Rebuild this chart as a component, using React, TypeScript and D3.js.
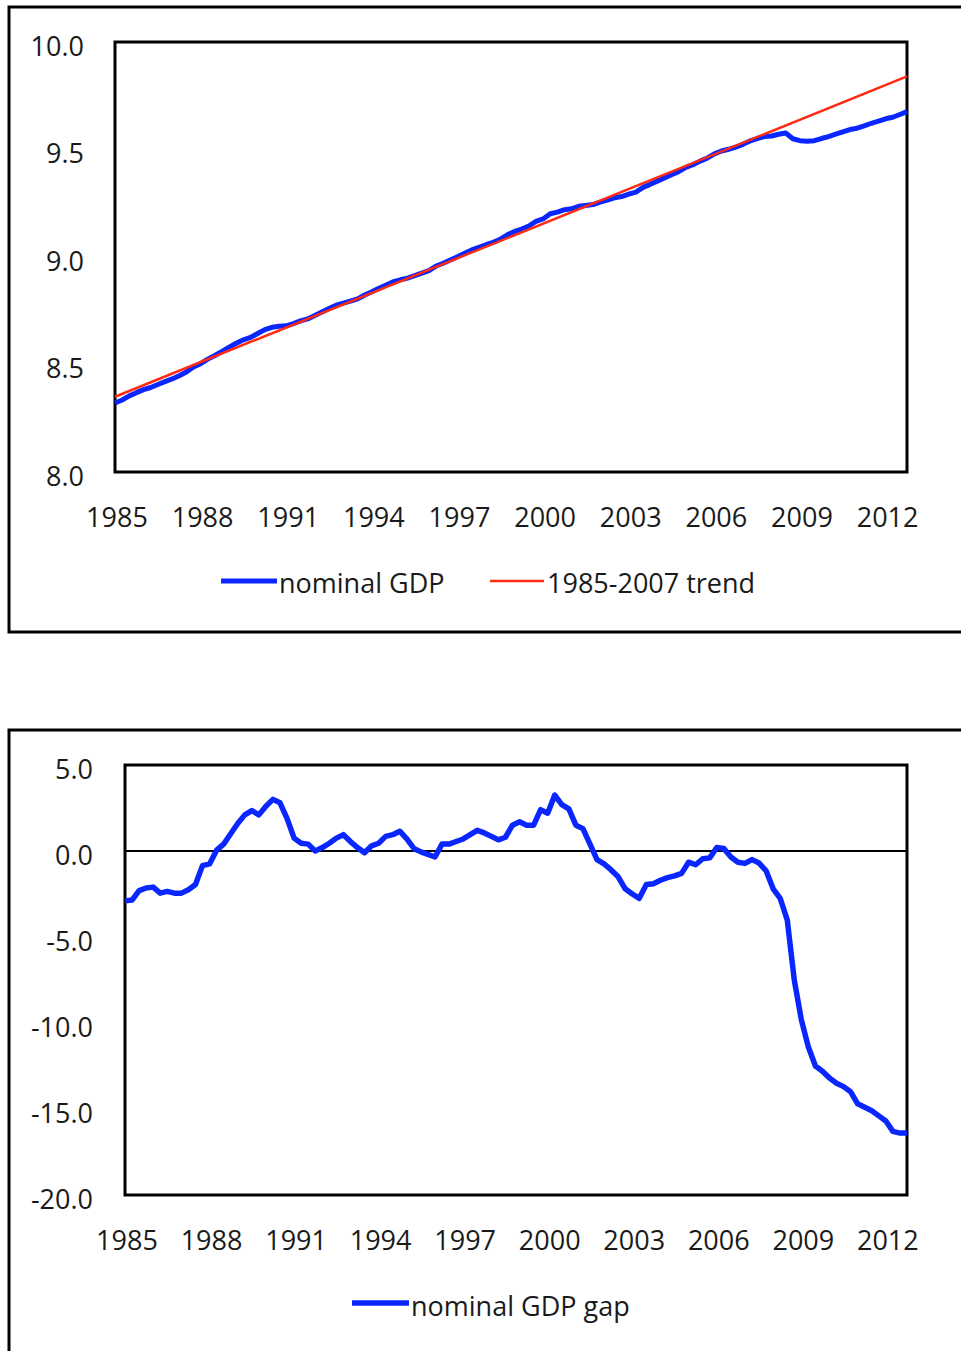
import React from "react";
import * as d3 from "d3";

// Quarterly observations, 1985Q1 .. 2012Q4 (112 quarters)
const startYear = 1985;
const quarterCount = 112;
const yearTicks = [1985, 1988, 1991, 1994, 1997, 2000, 2003, 2006, 2009, 2012];

// log nominal GDP
const nominalGDP = [
  8.321, 8.335, 8.354, 8.369, 8.383, 8.393, 8.407, 8.420, 8.433, 8.448,
  8.465, 8.489, 8.504, 8.525, 8.542, 8.561, 8.581, 8.599, 8.615, 8.626,
  8.644, 8.662, 8.673, 8.678, 8.680, 8.690, 8.703, 8.712, 8.728, 8.744,
  8.760, 8.776, 8.785, 8.795, 8.805, 8.823, 8.838, 8.855, 8.870, 8.885,
  8.894, 8.902, 8.913, 8.925, 8.937, 8.958, 8.971, 8.986, 9.001, 9.017,
  9.033, 9.045, 9.057, 9.068, 9.083, 9.103, 9.119, 9.130, 9.144, 9.166,
  9.177, 9.201, 9.209, 9.220, 9.224, 9.236, 9.240, 9.244, 9.255, 9.265,
  9.275, 9.281, 9.292, 9.302, 9.324, 9.338, 9.353, 9.368, 9.383, 9.397,
  9.417, 9.429, 9.446, 9.460, 9.480, 9.493, 9.501, 9.511, 9.524, 9.540,
  9.551, 9.560, 9.563, 9.571, 9.577, 9.550, 9.541, 9.538, 9.541, 9.551,
  9.560, 9.571, 9.582, 9.593, 9.599, 9.610, 9.622, 9.632, 9.643, 9.650,
  9.663, 9.676,
];

// 1985-2007 trend: straight line, start and end points
const trendIndex = [0, 111];
const trendValues = [8.35, 9.84];

// nominal GDP gap, percent (lower panel)
const gdpGap = [
  -2.9, -2.85, -2.3, -2.15, -2.1, -2.45, -2.35, -2.45, -2.45, -2.25,
  -1.95, -0.85, -0.75, 0.05, 0.4, 1.0, 1.6, 2.1, 2.35, 2.1,
  2.6, 3.0, 2.8, 1.9, 0.75, 0.45, 0.4, 0.0, 0.2, 0.45,
  0.75, 0.95, 0.55, 0.2, -0.1, 0.3, 0.45, 0.85, 0.95, 1.15,
  0.7, 0.15, -0.05, -0.2, -0.35, 0.4, 0.4, 0.55, 0.7, 0.95,
  1.2, 1.05, 0.85, 0.65, 0.8, 1.5, 1.7, 1.5, 1.5, 2.4,
  2.2, 3.25, 2.7, 2.45, 1.5, 1.3, 0.4, -0.5, -0.75, -1.1,
  -1.5, -2.2, -2.5, -2.75, -1.95, -1.9, -1.7, -1.55, -1.45, -1.3,
  -0.65, -0.8, -0.45, -0.4, 0.2, 0.15, -0.35, -0.65, -0.72, -0.5,
  -0.7, -1.15, -2.2, -2.75, -4.0, -7.5, -9.8, -11.4, -12.5, -12.8,
  -13.2, -13.5, -13.7, -14.0, -14.7, -14.9, -15.1, -15.4, -15.7, -16.3,
  -16.4, -16.4,
];

const topTicks = [8.0, 8.5, 9.0, 9.5, 10.0];
const bottomTicks = [-20, -15, -10, -5, 0, 5];

const FONT = "'Open Sans', 'DejaVu Sans', sans-serif";
const FS = 27;
const TEXT = "#1a1a1a";
const BLUE = "#0a26ff";
const RED = "#ff2a12";

export default function App() {
  // upper panel
  const xTop = d3.scaleLinear().domain([0, quarterCount - 1]).range([115, 907]);
  const yTop = d3.scaleLinear().domain([8, 10]).range([472, 42]);
  const gdpLine = d3
    .line<number>()
    .x((_, i) => xTop(i))
    .y((d) => yTop(d));
  const trendLine = d3
    .line<number>()
    .x((_, i) => xTop(trendIndex[i]))
    .y((d) => yTop(d));

  // lower panel
  const xBot = d3.scaleLinear().domain([0, quarterCount - 1]).range([125, 907]);
  const yBot = d3.scaleLinear().domain([-20, 5]).range([1195, 765]);
  const gapLine = d3
    .line<number>()
    .x((_, i) => xBot(i))
    .y((d) => yBot(d));

  const qIndex = (yr: number) => (yr - startYear) * 4;

  return (
    <svg
      width={961}
      height={1351}
      style={{ position: "absolute", left: 0, top: 0, display: "block", background: "#fff" }}
      fontFamily={FONT}
    >
      <rect x={0} y={0} width={961} height={1351} fill="#fff" />

      {/* ===== upper panel ===== */}
      <rect x={9} y={7} width={970} height={625} fill="none" stroke="#000" strokeWidth={3} />
      <rect x={115} y={42} width={792} height={430} fill="none" stroke="#000" strokeWidth={3} />
      {topTicks.map((t) => (
        <text key={t} x={84} y={yTop(t) + 13.5} textAnchor="end" fontSize={FS} fill={TEXT}>
          {t.toFixed(1)}
        </text>
      ))}
      {yearTicks.map((yr) => (
        <text key={yr} x={xTop(qIndex(yr)) + 2} y={527} textAnchor="middle" fontSize={FS} fill={TEXT}>
          {yr}
        </text>
      ))}
      <path d={gdpLine(nominalGDP) ?? ""} fill="none" stroke={BLUE} strokeWidth={5} strokeLinejoin="round" />
      <path d={trendLine(trendValues) ?? ""} fill="none" stroke={RED} strokeWidth={2.5} />

      {/* legend */}
      <line x1={221} x2={277} y1={581} y2={581} stroke={BLUE} strokeWidth={5} />
      <text x={279} y={593} fontSize={FS} fill={TEXT}>nominal GDP</text>
      <line x1={490} x2={544} y1={581} y2={581} stroke={RED} strokeWidth={2.5} />
      <text x={547} y={593} fontSize={FS} fill={TEXT}>1985-2007 trend</text>

      {/* ===== lower panel ===== */}
      <rect x={9} y={730} width={970} height={640} fill="none" stroke="#000" strokeWidth={3} />
      <rect x={125} y={765} width={782} height={430} fill="none" stroke="#000" strokeWidth={3} />
      <line x1={125} x2={907} y1={yBot(0)} y2={yBot(0)} stroke="#000" strokeWidth={2} />
      {bottomTicks.map((t) => (
        <text key={t} x={93} y={yBot(t) + 13.5} textAnchor="end" fontSize={FS} fill={TEXT}>
          {t.toFixed(1)}
        </text>
      ))}
      {yearTicks.map((yr) => (
        <text key={yr} x={xBot(qIndex(yr)) + 2} y={1250} textAnchor="middle" fontSize={FS} fill={TEXT}>
          {yr}
        </text>
      ))}
      <path d={gapLine(gdpGap) ?? ""} fill="none" stroke={BLUE} strokeWidth={5.5} strokeLinejoin="round" />

      <line x1={352} x2={409} y1={1303} y2={1303} stroke={BLUE} strokeWidth={5.5} />
      <text x={411} y={1316} fontSize={FS} fill={TEXT}>nominal GDP gap</text>
    </svg>
  );
}
